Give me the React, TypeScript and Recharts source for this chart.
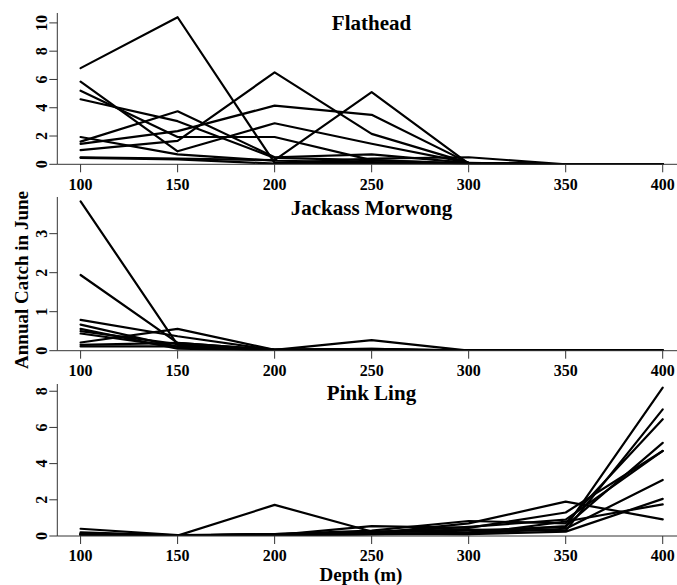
import React from "react";
import { LineChart, Line, XAxis, YAxis } from "recharts";

const depths = [100, 150, 200, 250, 300, 350, 400];

// Flathead series (catch by depth)
const flathead1 = [6.8, 10.4, 0.1, 0.1, 0.05, 0, 0];
const flathead2 = [5.85, 0.92, 2.9, 1.45, 0.1, 0, 0];
const flathead3 = [5.2, 1.93, 1.93, 0.3, 0.05, 0, 0];
const flathead4 = [4.6, 3.05, 0.45, 0.3, 0.05, 0, 0];
const flathead5 = [1.6, 3.75, 0.5, 0.7, 0.1, 0, 0];
const flathead6 = [1.0, 1.65, 6.5, 2.15, 0.1, 0, 0];
const flathead7 = [1.45, 2.35, 4.15, 3.5, 0.1, 0, 0];
const flathead8 = [1.93, 0.7, 0.25, 0.15, 0.05, 0, 0];
const flathead9 = [0.5, 0.4, 0.3, 5.1, 0.05, 0, 0];
const flathead10 = [0.45, 0.35, 0.05, 0.4, 0.5, 0, 0];

// Jackass Morwong series
const jackass1 = [3.83, 0.15, 0.02, 0.02, 0, 0, 0];
const jackass2 = [1.94, 0.2, 0.02, 0.02, 0, 0, 0];
const jackass3 = [0.79, 0.37, 0.02, 0.05, 0, 0, 0];
const jackass4 = [0.67, 0.1, 0.02, 0.03, 0, 0, 0];
const jackass5 = [0.56, 0.05, 0.01, 0.02, 0, 0, 0];
const jackass6 = [0.5, 0.17, 0.02, 0.27, 0, 0, 0];
const jackass7 = [0.44, 0.1, 0.01, 0.02, 0, 0, 0];
const jackass8 = [0.21, 0.56, 0.02, 0.03, 0, 0, 0];
const jackass9 = [0.15, 0.2, 0.02, 0.05, 0, 0, 0];
const jackass10 = [0.11, 0.11, 0.01, 0.02, 0, 0, 0];

// Pink Ling series
const pink1 = [0.4, 0.05, 0.1, 0.2, 0.3, 0.5, 8.2];
const pink2 = [0.1, 0.02, 1.72, 0.25, 0.35, 0.3, 7.0];
const pink3 = [0.15, 0.03, 0.05, 0.55, 0.45, 1.3, 4.7];
const pink4 = [0.1, 0.02, 0.1, 0.3, 0.83, 0.7, 6.45];
const pink5 = [0.2, 0.03, 0.08, 0.15, 0.7, 1.9, 0.92];
const pink6 = [0.05, 0.02, 0.05, 0.1, 0.2, 0.55, 5.15];
const pink7 = [0.1, 0.02, 0.1, 0.2, 0.5, 0.9, 4.7];
const pink8 = [0.05, 0.01, 0.05, 0.1, 0.15, 0.4, 3.1];
const pink9 = [0.1, 0.02, 0.05, 0.1, 0.1, 0.24, 2.05];
const pink10 = [0.08, 0.02, 0.1, 0.15, 0.1, 0.8, 1.75];

const flatheadSeries = [flathead1, flathead2, flathead3, flathead4, flathead5, flathead6, flathead7, flathead8, flathead9, flathead10];
const jackassSeries = [jackass1, jackass2, jackass3, jackass4, jackass5, jackass6, jackass7, jackass8, jackass9, jackass10];
const pinkSeries = [pink1, pink2, pink3, pink4, pink5, pink6, pink7, pink8, pink9, pink10];

const flatheadTicks = [0, 2, 4, 6, 8, 10];
const jackassTicks = [0, 1, 2, 3];
const pinkTicks = [0, 2, 4, 6, 8];

const titles = ["Flathead", "Jackass Morwong", "Pink Ling"];
const yLabel = "Annual Catch in June";
const xLabel = "Depth (m)";

const FONT = "'Liberation Serif', 'Times New Roman', serif";
const AXIS_COLOR = "#333";

function buildRows(series: number[][]) {
  return depths.map((d, i) => {
    const row: Record<string, number> = { depth: d };
    series.forEach((s, k) => {
      row["s" + k] = s[i];
    });
    return row;
  });
}

const YTick = (props: any) => {
  const { x, y, payload } = props;
  const x0 = x - 2.5;
  return (
    <text
      x={x0}
      y={y}
      transform={`rotate(-90 ${x0} ${y})`}
      textAnchor="middle"
      fontFamily={FONT}
      fontWeight="bold"
      fontSize={16}
      fill="#000"
    >
      {payload.value}
    </text>
  );
};

type PanelProps = {
  series: number[][];
  yMax: number;
  yTicks: number[];
  top: number;
  plotHeight: number;
};

const Panel = ({ series, yMax, yTicks, top, plotHeight }: PanelProps) => {
  const rows = buildRows(series);
  const height = plotHeight + 40;
  return (
    <div style={{ position: "absolute", left: 0, top }}>
      <LineChart width={686} height={height} data={rows} margin={{ top: 10, right: 0, bottom: 0, left: 0 }}>
        <XAxis
          xAxisId={0}
          type="number"
          dataKey="depth"
          domain={[88, 412]}
          ticks={depths}
          allowDataOverflow
          height={30}
          tickSize={8}
          tickMargin={6}
          axisLine={{ stroke: AXIS_COLOR, strokeWidth: 1 }}
          tickLine={{ stroke: AXIS_COLOR, strokeWidth: 1 }}
          tick={{ fontFamily: FONT, fontWeight: "bold", fontSize: 16, fill: "#000" }}
          interval={0}
        />
        <XAxis
          xAxisId="top"
          orientation="top"
          type="number"
          dataKey="depth"
          domain={[88, 412]}
          allowDataOverflow
          height={0}
          tick={false}
          tickLine={false}
          axisLine={{ stroke: AXIS_COLOR, strokeWidth: 1 }}
        />
        <YAxis
          type="number"
          domain={[0, yMax]}
          ticks={yTicks}
          allowDataOverflow
          width={57.3}
          tickSize={8}
          tickMargin={0}
          interval={0}
          axisLine={{ stroke: AXIS_COLOR, strokeWidth: 1 }}
          tickLine={{ stroke: AXIS_COLOR, strokeWidth: 1 }}
          tick={<YTick />}
        />
        {series.map((_, k) => (
          <Line
            key={k}
            xAxisId={0}
            type="linear"
            dataKey={"s" + k}
            stroke="#000"
            strokeWidth={2.2}
            strokeLinejoin="round"
            strokeLinecap="round"
            dot={false}
            activeDot={false}
            isAnimationActive={false}
          />
        ))}
      </LineChart>
    </div>
  );
};

export default function App() {
  return (
    <div
      style={{
        position: "absolute",
        left: 0,
        top: 0,
        width: 677,
        height: 585,
        overflow: "hidden",
        background: "#fff",
      }}
    >
      <Panel series={flatheadSeries} yMax={10.7} yTicks={flatheadTicks} top={2.7} plotHeight={151.3} />
      <Panel series={jackassSeries} yMax={3.94} yTicks={jackassTicks} top={187.3} plotHeight={153.7} />
      <Panel series={pinkSeries} yMax={8.4} yTicks={pinkTicks} top={374} plotHeight={152} />
      <svg
        width={677}
        height={585}
        style={{ position: "absolute", left: 0, top: 0, pointerEvents: "none" }}
      >
        <g fontFamily={FONT} fontWeight="bold" fill="#000" textAnchor="middle">
          <text x={371.5} y={30} fontSize={21}>{titles[0]}</text>
          <text x={371.5} y={215} fontSize={21}>{titles[1]}</text>
          <text x={371.5} y={400} fontSize={21}>{titles[2]}</text>
          <text x={28} y={280} fontSize={19} transform="rotate(-90 28 280)">{yLabel}</text>
          <text x={361} y={581} fontSize={19}>{xLabel}</text>
        </g>
      </svg>
    </div>
  );
}
